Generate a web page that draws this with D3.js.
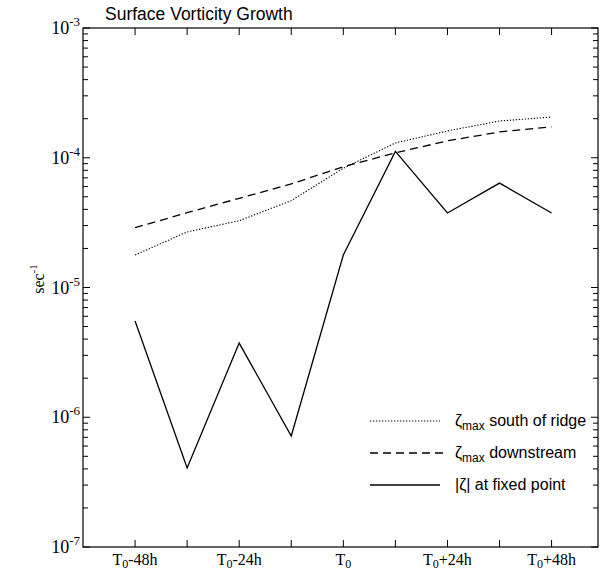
<!DOCTYPE html>
<html><head><meta charset="utf-8">
<script src="https://cdn.jsdelivr.net/npm/d3@7"></script>
<style>body{margin:0;background:#fff}</style>
</head><body>
<svg id="c" width="601" height="572"></svg>
<script>
// ---- data ----
const hours = [-48, -36, -24, -12, 0, 12, 24, 36, 48];
const southOfRidge = [1.78e-5, 2.68e-5, 3.27e-5, 4.67e-5, 8.3e-5, 1.30e-4, 1.61e-4, 1.92e-4, 2.06e-4];
const downstream   = [2.89e-5, 3.77e-5, 4.87e-5, 6.28e-5, 8.53e-5, 1.09e-4, 1.35e-4, 1.58e-4, 1.73e-4];
const fixedPoint   = [5.52e-6, 4.06e-7, 3.73e-6, 7.17e-7, 1.78e-5, 1.12e-4, 3.75e-5, 6.38e-5, 3.75e-5];
const xTickHours = [-48, -36, -24, -12, 0, 12, 24, 36, 48];
const xLabelHours = [-48, -24, 0, 24, 48];
const xLabelSuffix = ["-48h", "-24h", "", "+24h", "+48h"];
const yDecadeExp = [-3, -4, -5, -6, -7];
const legendNames = ["south of ridge", "downstream", "at fixed point"];
const titleText = "Surface Vorticity Growth";

// ---- layout ----
const svg = d3.select("#c");
const x = d3.scaleLinear().domain([-60, 58.7]).range([83, 598]);
const y = d3.scaleLog().domain([1e-7, 1e-3]).range([547, 28]);
const X0 = x.range()[0], X1 = x.range()[1], Y0 = y.range()[0], Y1 = y.range()[1];
const serif = "'Liberation Serif', 'Times New Roman', serif";
const sans = "'Liberation Sans', Arial, sans-serif";

// frame
svg.append("rect").attr("x", X0).attr("y", Y1).attr("width", X1 - X0).attr("height", Y0 - Y1)
  .attr("fill", "none").attr("stroke", "#000").attr("stroke-width", 1.2);

// x ticks (bottom & top, inward)
xTickHours.forEach(h => {
  svg.append("line").attr("x1", x(h)).attr("x2", x(h)).attr("y1", Y0).attr("y2", Y0 - 7)
    .attr("stroke", "#000").attr("stroke-width", 1);
  svg.append("line").attr("x1", x(h)).attr("x2", x(h)).attr("y1", Y1).attr("y2", Y1 + 7)
    .attr("stroke", "#000").attr("stroke-width", 1);
});

// y log ticks (left & right, inward)
const yTicks = y.ticks();
yTicks.forEach(v => {
  const major = Math.abs(Math.log10(v) - Math.round(Math.log10(v))) < 1e-9;
  const len = major ? 7 : 5;
  svg.append("line").attr("x1", X0).attr("x2", X0 + len).attr("y1", y(v)).attr("y2", y(v))
    .attr("stroke", "#000").attr("stroke-width", 1);
  svg.append("line").attr("x1", X1).attr("x2", X1 - len).attr("y1", y(v)).attr("y2", y(v))
    .attr("stroke", "#000").attr("stroke-width", 1);
});

// x labels
xLabelHours.forEach((h, i) => {
  const t = svg.append("text").attr("x", x(h)).attr("y", 565).attr("text-anchor", "middle")
    .attr("font-family", serif).attr("font-size", 16).attr("fill", "#000");
  t.append("tspan").text("T");
  t.append("tspan").attr("font-size", 12).attr("dy", 3).text("0");
  if (xLabelSuffix[i]) t.append("tspan").attr("dy", -3).text(xLabelSuffix[i]);
});

// y labels
yDecadeExp.forEach(e => {
  const t = svg.append("text").attr("x", 80).attr("y", y(Math.pow(10, e)) + 6).attr("text-anchor", "end")
    .attr("font-family", serif).attr("font-size", 18).attr("fill", "#000");
  t.append("tspan").text("10");
  t.append("tspan").attr("font-size", 13).attr("dy", -8).text("-" + (-e));
});

// y axis title
const yt = svg.append("text").attr("transform", "translate(44,279) rotate(-90)")
  .attr("text-anchor", "middle").attr("font-family", serif).attr("font-size", 16).attr("fill", "#000");
yt.append("tspan").text("sec");
yt.append("tspan").attr("font-size", 11).attr("dy", -7).text("-1");

// title
svg.append("text").attr("x", 105).attr("y", 20).attr("font-family", sans).attr("font-size", 17.5)
  .attr("fill", "#000").text(titleText);

// lines
const line = d3.line().x((d, i) => x(hours[i])).y(d => y(d));
const styles = [
  { data: southOfRidge, dash: "1.3,1.7", w: 1.1 },
  { data: downstream, dash: "8,5", w: 1.3 },
  { data: fixedPoint, dash: null, w: 1.3 }
];
styles.forEach(s => {
  svg.append("path").datum(s.data).attr("d", line).attr("fill", "none")
    .attr("stroke", "#000").attr("stroke-width", s.w).attr("stroke-dasharray", s.dash);
});

// legend
const legY = [421, 453, 485];
styles.forEach((s, i) => {
  svg.append("line").attr("x1", 370).attr("x2", i === 1 ? 446 : 440).attr("y1", legY[i]).attr("y2", legY[i])
    .attr("stroke", "#000").attr("stroke-width", s.w).attr("stroke-dasharray", s.dash);
  const t = svg.append("text").attr("x", 455).attr("y", legY[i] + 5).attr("font-family", sans)
    .attr("font-size", 16).attr("fill", "#000");
  if (i < 2) {
    t.append("tspan").text("\u03B6");
    t.append("tspan").attr("font-size", 12).attr("dy", 4).text("max");
    t.append("tspan").attr("dy", -4).text(" " + legendNames[i]);
  } else {
    t.append("tspan").text("|\u03B6| " + legendNames[i]);
  }
});
</script>
</body></html>
